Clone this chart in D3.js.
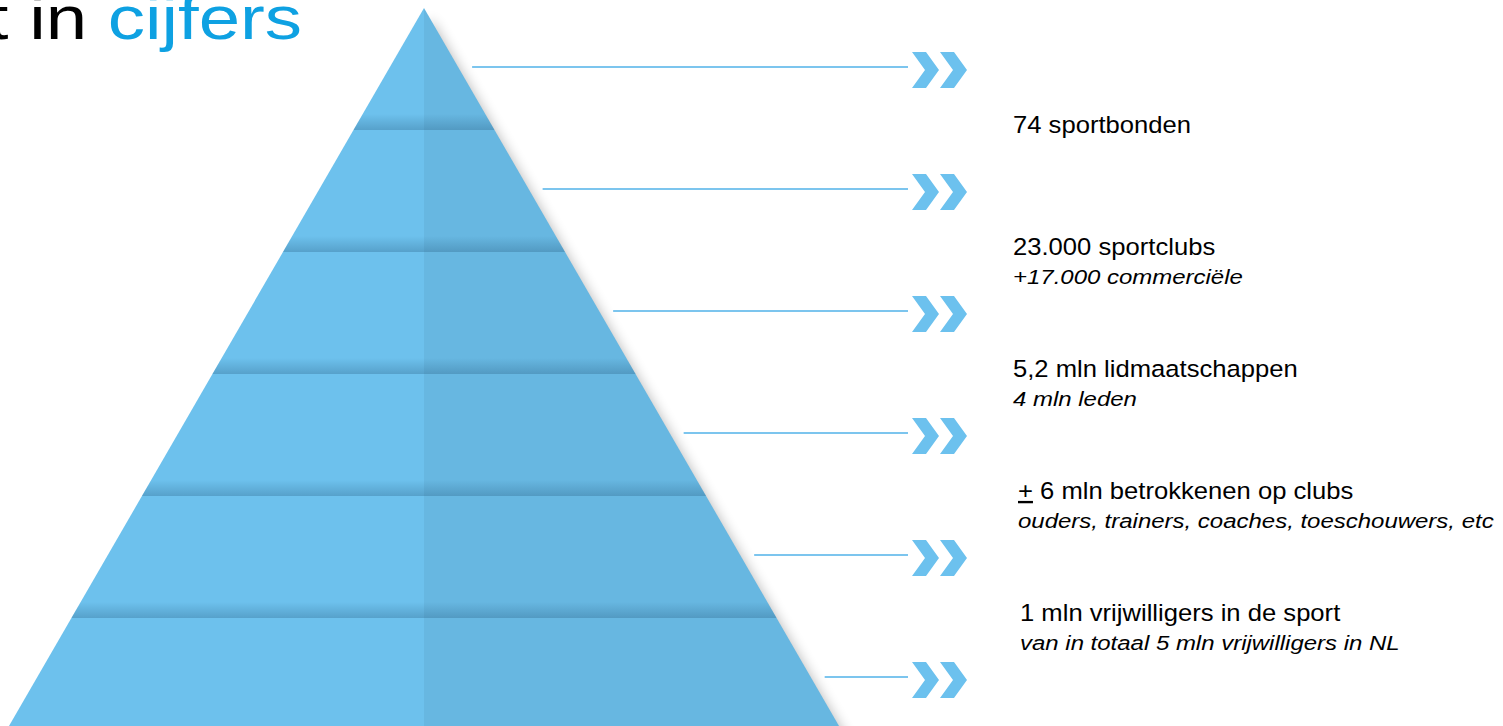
<!DOCTYPE html>
<html>
<head>
<meta charset="utf-8">
<style>
  body { margin: 0; background: #fff; overflow: hidden; }
  svg { display: block; font-family: Arial, "Liberation Sans", Helvetica, sans-serif; }
</style>
</head>
<body>
<div id="pyramid"></div>
<script src="https://d3js.org/d3.v7.min.js"></script>
<script>
// tiers, top to bottom
var tiers = ["sportbonden", "sportclubs", "lidmaatschappen", "betrokkenen", "vrijwilligers", "sporters"];
var mainLabels = ["74 sportbonden", "23.000 sportclubs", "5,2 mln lidmaatschappen", "6 mln betrokkenen op clubs", "1 mln vrijwilligers in de sport"];
var subLabels = ["", "+17.000 commerciële", "4 mln leden", "ouders, trainers, coaches, toeschouwers, etc", "van in totaal 5 mln vrijwilligers in NL"];
var labelPrefix = ["", "", "", "+", ""];
var titleParts = ["t in ", "cijfers"];

var width = 1503, height = 726;
var cx = 424, slope = 0.578;

var svg = d3.select("#pyramid").append("svg")
    .attr("width", width)
    .attr("height", height);

var defs = svg.append("defs");
defs.append("filter").attr("id", "shadow")
    .attr("x", "-20%").attr("y", "-20%").attr("width", "140%").attr("height", "140%")
  .append("feGaussianBlur").attr("stdDeviation", 7);

var shade = defs.append("linearGradient").attr("id", "shade")
    .attr("x1", 0).attr("y1", 0).attr("x2", 0).attr("y2", 1);
shade.append("stop").attr("offset", "0%").attr("stop-color", "#1d4f73").attr("stop-opacity", 0);
shade.append("stop").attr("offset", "100%").attr("stop-color", "#1d4f73").attr("stop-opacity", 0.28);

// vertical scale for tier boundaries
var y = d3.scaleLinear().domain([0, tiers.length]).range([8, 740]);
function half(yy) { return (yy - y(0)) * slope; }

// shadow behind the right flank
var apexY = y(0), baseY = y(tiers.length);
svg.append("path")
    .attr("d", "M" + [cx + 6, apexY + 12] + "L" + [cx + 6 + half(baseY), baseY + 12] + "L" + [cx + 6 - half(baseY) + 40, baseY + 12] + "Z")
    .attr("fill", "#000")
    .attr("opacity", 0.32)
    .attr("filter", "url(#shadow)");

var tier = svg.append("g").selectAll("g")
  .data(tiers)
  .enter().append("g");

// left (lighter) half
tier.append("path")
    .attr("fill", "#6dc1ed")
    .attr("d", function(d, i) {
      var t = y(i), b = y(i + 1);
      return "M" + [cx - half(t), t] + "L" + [cx, t] + "L" + [cx, b] + "L" + [cx - half(b), b] + "Z";
    });

// right (darker) half
tier.append("path")
    .attr("fill", "#67b7e1")
    .attr("d", function(d, i) {
      var t = y(i), b = y(i + 1);
      return "M" + [cx, t] + "L" + [cx + half(t), t] + "L" + [cx + half(b), b] + "L" + [cx, b] + "Z";
    });

// darkening towards each tier's lower edge
tier.filter(function(d, i) { return i < tiers.length - 1; })
  .append("path")
    .attr("fill", "url(#shade)")
    .attr("d", function(d, i) {
      var b = y(i + 1), t = b - 16;
      return "M" + [cx - half(t), t] + "L" + [cx + half(t), t] + "L" + [cx + half(b), b] + "L" + [cx - half(b), b] + "Z";
    });

// connector lines and chevrons
var rows = svg.append("g").selectAll("g")
  .data(tiers)
  .enter().append("g");

rows.append("line")
    .attr("x1", function(d, i) { var yy = y(i) + 59; return cx + half(yy) + 14; })
    .attr("x2", 908)
    .attr("y1", function(d, i) { return y(i) + 59; })
    .attr("y2", function(d, i) { return y(i) + 59; })
    .attr("stroke", "#7cc5ee")
    .attr("stroke-width", 2);

var chev = "M0,0L14,0L27,18L14,36L0,36L13,18Z";
[912, 940].forEach(function(x0) {
  rows.append("path")
      .attr("d", chev)
      .attr("fill", "#6cc1ee")
      .attr("transform", function(d, i) { return "translate(" + x0 + "," + (y(i) + 59 + 3 - 18) + ")"; });
});

// labels between the rows (text in the slide is drawn a little wide)
var textX = [1013, 1013, 1013, 1018, 1020];
var labels = svg.append("g").selectAll("g")
  .data(mainLabels)
  .enter().append("g")
    .attr("transform", function(d, i) { return "translate(" + textX[i] + "," + (y(i + 1) + 3) + ")"; });

var main = labels.append("text")
    .attr("font-size", "23.5px")
    .attr("transform", "scale(1.09,1)")
    .attr("fill", "#000");
main.append("tspan")
    .attr("text-decoration", "underline")
    .text(function(d, i) { return labelPrefix[i]; });
main.append("tspan")
    .text(function(d, i) { return (labelPrefix[i] ? " " : "") + d; });

labels.append("text")
    .attr("y", 29)
    .attr("font-size", "19.5px")
    .attr("font-style", "italic")
    .attr("transform", "scale(1.23,1)")
    .attr("fill", "#000")
    .text(function(d, i) { return subLabels[i]; });

// title, cut off at the left edge
var title = svg.append("g")
    .attr("transform", "translate(302,39) scale(1.2,1)")
  .append("text")
    .attr("text-anchor", "end")
    .attr("font-size", "62px");
title.append("tspan").attr("fill", "#000").text(titleParts[0]);
title.append("tspan").attr("fill", "#0ea1e2").text(titleParts[1]);
</script>
</body>
</html>
